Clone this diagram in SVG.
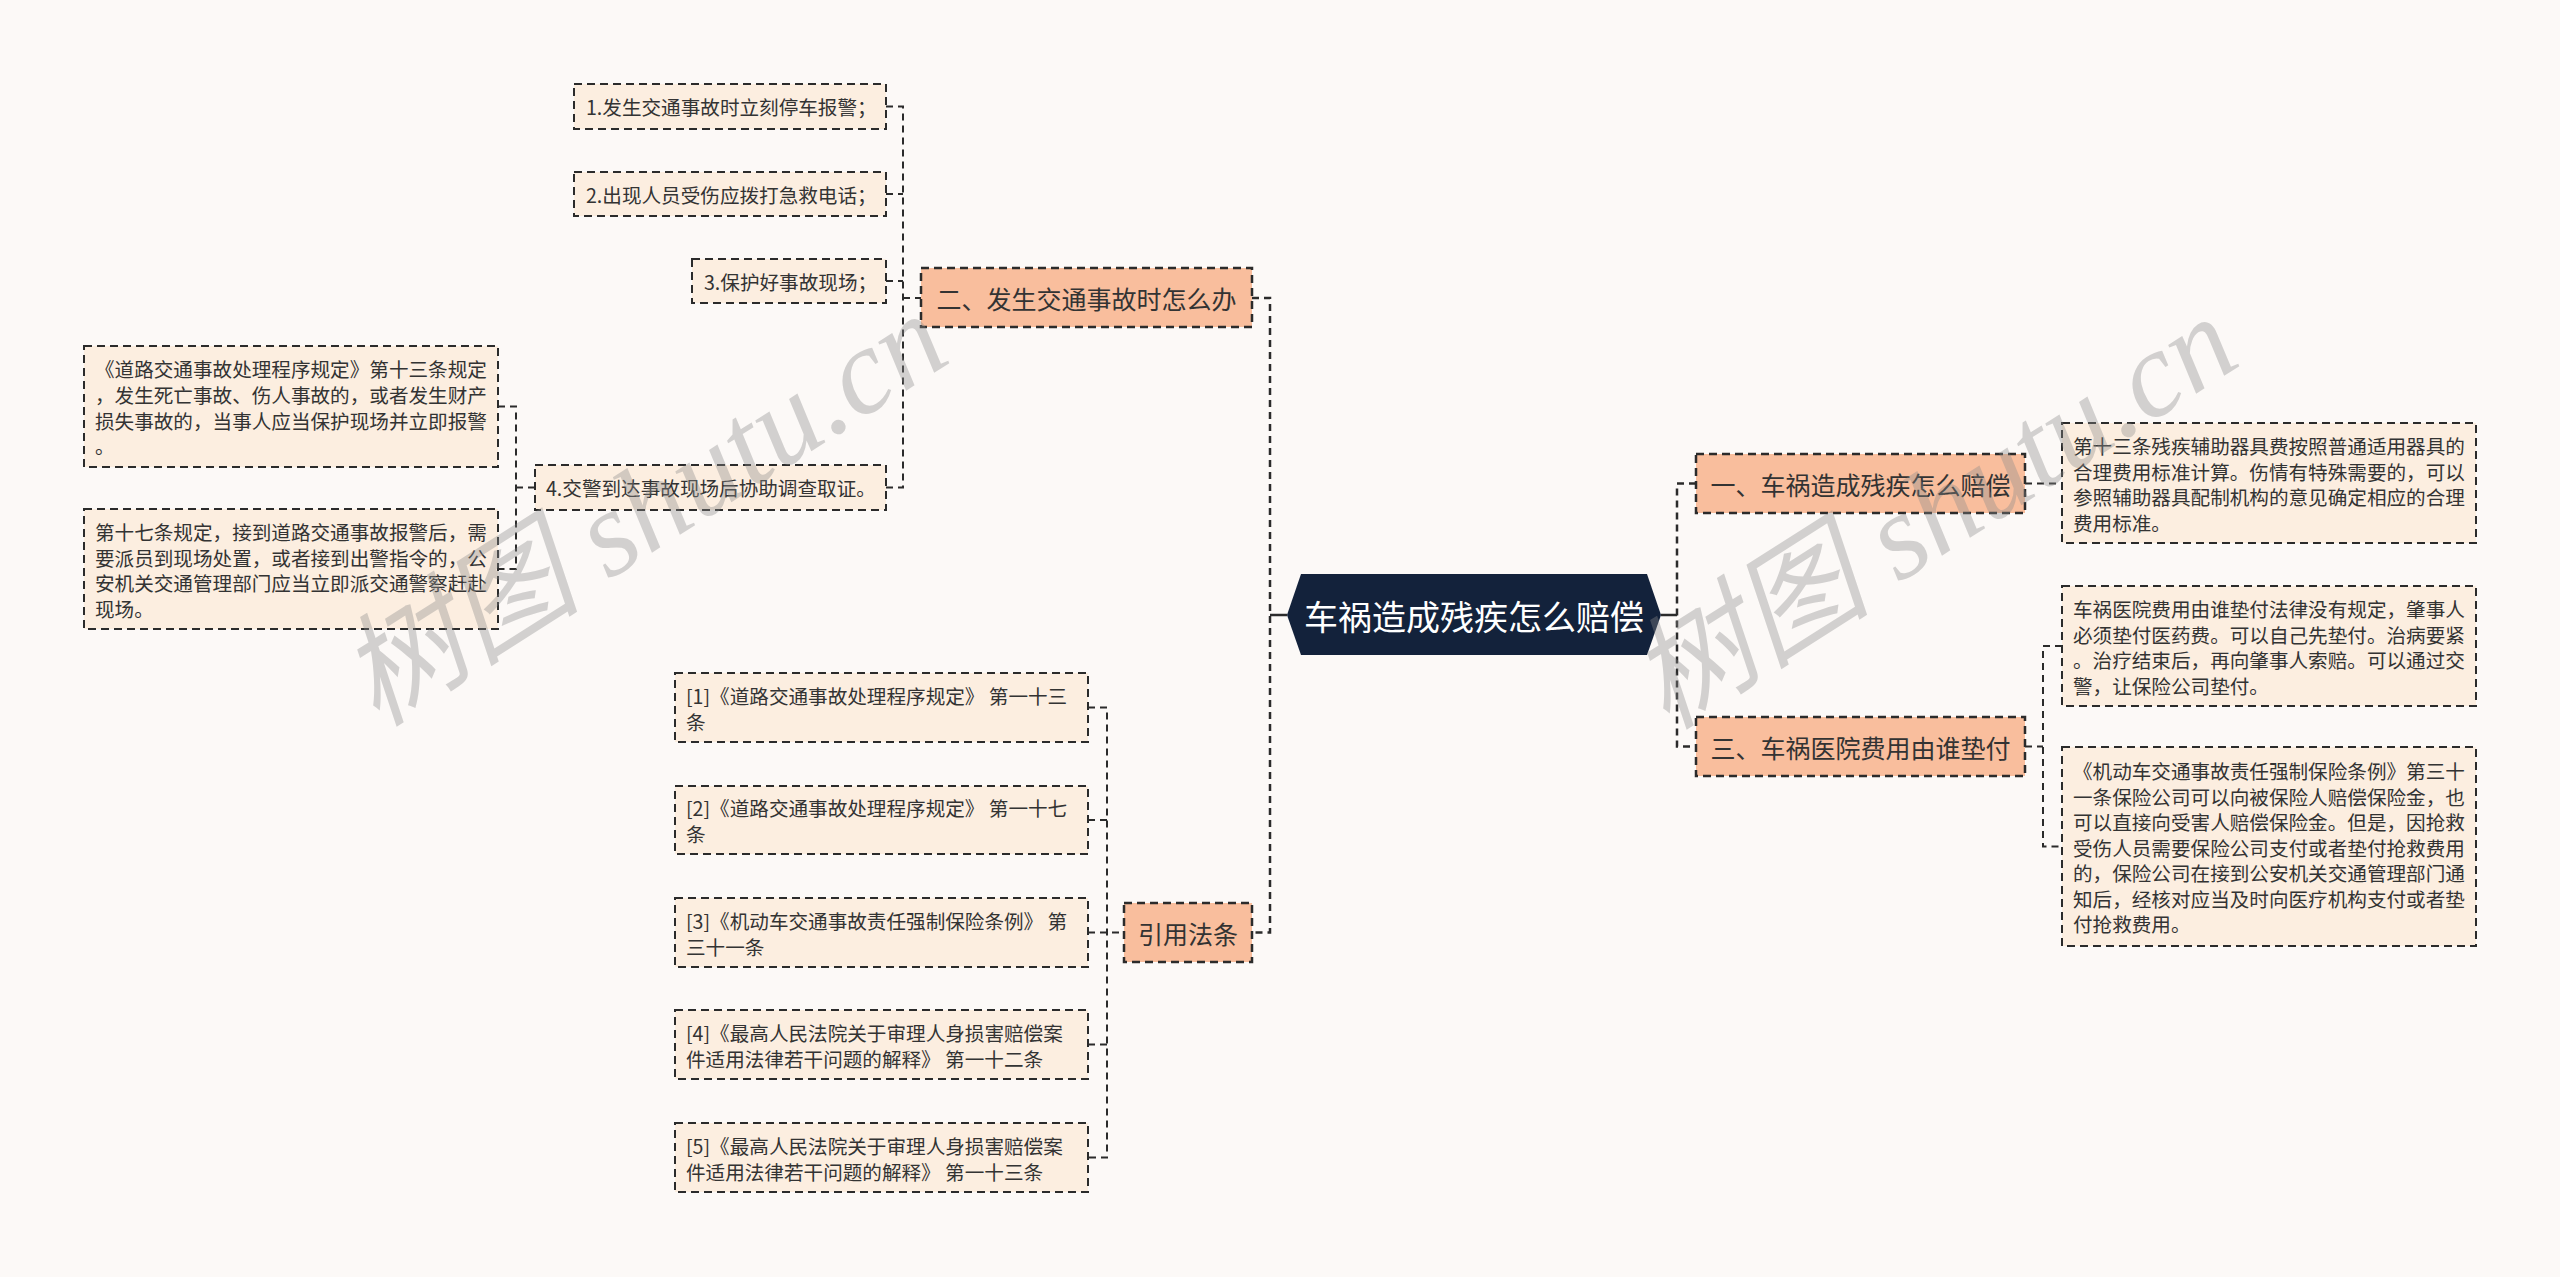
<svg xmlns="http://www.w3.org/2000/svg" width="2560" height="1277" viewBox="0 0 2560 1277">
<style>
  .bg{fill:#FCF9F7}
  .leaf{fill:#FCEEE0;stroke:#2b2b2b;stroke-width:2;stroke-dasharray:8 5}
  .lv1{fill:#F9BE9D;stroke:#2b2b2b;stroke-width:2.5;stroke-dasharray:8 5}
  .root{fill:#13223B}
  .t{font-family:"Noto Sans CJK SC","Noto Sans",sans-serif;font-size:19.6px;fill:#333333;dominant-baseline:central}
  .t1{font-family:"Noto Sans CJK SC","Noto Sans",sans-serif;font-size:25px;fill:#333333;dominant-baseline:central;text-anchor:middle}
  .tr{font-family:"Noto Sans CJK SC","Noto Sans",sans-serif;font-size:34px;fill:#FFFFFF;dominant-baseline:central;text-anchor:middle}
  .c1{fill:none;stroke:#2b2b2b;stroke-width:2.5;stroke-dasharray:7 5}
  .c2{fill:none;stroke:#2b2b2b;stroke-width:2;stroke-dasharray:7 5}
  .cs{fill:none;stroke:#2b2b2b;stroke-width:2.5}
  .wm{font-family:"Liberation Serif","Noto Sans CJK SC",serif;font-style:italic;font-size:122px;fill:#8a8a8a;opacity:0.36;dominant-baseline:central;text-anchor:middle}
</style>
<rect class="bg" x="0" y="0" width="2560" height="1277"/>

<g id="connectors">
  <path class="cs" d="M1287,615 H1270"/>
  <path class="cs" d="M1661,615 H1677"/>
  <path class="c1" d="M1252,298 H1270 V932.5 H1252"/>
  <path class="c1" d="M1696,483.5 H1677 V746.5 H1696"/>

  <path class="c2" d="M886,106.5 H903 V487.5 H886"/>
  <path class="c2" d="M886,194 H903"/>
  <path class="c2" d="M886,281 H903"/>
  <path class="c2" d="M903,298 H921"/>

  <path class="c2" d="M498,406.5 H516 V569 H498"/>
  <path class="c2" d="M516,487.5 H535"/>

  <path class="c2" d="M1088,707.5 H1107 V1157.5 H1088"/>
  <path class="c2" d="M1088,820 H1107"/>
  <path class="c2" d="M1088,932.5 H1124"/>
  <path class="c2" d="M1088,1044.5 H1107"/>

  <path class="c2" d="M2025,483.5 H2062"/>
  <path class="c2" d="M2062,646 H2043 V846.5 H2062"/>
  <path class="c2" d="M2025,746.5 H2043"/>
</g>

<g id="root">
  <polygon class="root" points="1287,615 1301,574 1647,574 1661,615 1647,655 1301,655"/>
  <text class="tr" x="1474" y="615">车祸造成残疾怎么赔偿</text>
</g>

<g id="n-two">
  <rect class="lv1" x="921" y="268" width="331" height="59"/>
  <text class="t1" x="1086.5" y="297.5">二、发生交通事故时怎么办</text>
</g>
<g id="n-law">
  <rect class="lv1" x="1124" y="903" width="128" height="59"/>
  <text class="t1" x="1188" y="932.5">引用法条</text>
</g>
<g id="n-one">
  <rect class="lv1" x="1696" y="454" width="329" height="59"/>
  <text class="t1" x="1860.5" y="483.5">一、车祸造成残疾怎么赔偿</text>
</g>
<g id="n-three">
  <rect class="lv1" x="1696" y="717" width="329" height="59"/>
  <text class="t1" x="1860.5" y="746.5">三、车祸医院费用由谁垫付</text>
</g>

<g id="s1">
  <rect class="leaf" x="574" y="84" width="312" height="45"/>
  <text class="t" x="586" y="106.5">1.发生交通事故时立刻停车报警；</text>
</g>
<g id="s2">
  <rect class="leaf" x="574" y="172" width="312" height="44"/>
  <text class="t" x="586" y="194">2.出现人员受伤应拨打急救电话；</text>
</g>
<g id="s3">
  <rect class="leaf" x="692" y="259" width="194" height="44"/>
  <text class="t" x="704" y="281">3.保护好事故现场；</text>
</g>
<g id="s4">
  <rect class="leaf" x="535" y="465" width="351" height="45"/>
  <text class="t" x="546" y="487.5">4.交警到达事故现场后协助调查取证。</text>
</g>
<g id="s4a">
  <rect class="leaf" x="84" y="346" width="414" height="121"/>
  <text class="t" x="95" y="368.5">《道路交通事故处理程序规定》第十三条规定<tspan x="95" dy="25.5">，发生死亡事故、伤人事故的，或者发生财产</tspan><tspan x="95" dy="25.5">损失事故的，当事人应当保护现场并立即报警</tspan><tspan x="95" dy="25.5">。</tspan></text>
</g>
<g id="s4b">
  <rect class="leaf" x="84" y="509" width="414" height="120"/>
  <text class="t" x="95" y="531">第十七条规定，接到道路交通事故报警后，需<tspan x="95" dy="25.5">要派员到现场处置，或者接到出警指令的，公</tspan><tspan x="95" dy="25.5">安机关交通管理部门应当立即派交通警察赶赴</tspan><tspan x="95" dy="25.5">现场。</tspan></text>
</g>

<g id="ref1">
  <rect class="leaf" x="675" y="673" width="413" height="69"/>
  <text class="t" x="686" y="695">[1]《道路交通事故处理程序规定》 第一十三<tspan x="686" dy="25.5">条</tspan></text>
</g>
<g id="ref2">
  <rect class="leaf" x="675" y="786" width="413" height="68"/>
  <text class="t" x="686" y="807.5">[2]《道路交通事故处理程序规定》 第一十七<tspan x="686" dy="25.5">条</tspan></text>
</g>
<g id="ref3">
  <rect class="leaf" x="675" y="898" width="413" height="69"/>
  <text class="t" x="686" y="920">[3]《机动车交通事故责任强制保险条例》 第<tspan x="686" dy="25.5">三十一条</tspan></text>
</g>
<g id="ref4">
  <rect class="leaf" x="675" y="1010" width="413" height="69"/>
  <text class="t" x="686" y="1032">[4]《最高人民法院关于审理人身损害赔偿案<tspan x="686" dy="25.5">件适用法律若干问题的解释》 第一十二条</tspan></text>
</g>
<g id="ref5">
  <rect class="leaf" x="675" y="1123" width="413" height="69"/>
  <text class="t" x="686" y="1145">[5]《最高人民法院关于审理人身损害赔偿案<tspan x="686" dy="25.5">件适用法律若干问题的解释》 第一十三条</tspan></text>
</g>

<g id="r1">
  <rect class="leaf" x="2062" y="423" width="414" height="120"/>
  <text class="t" x="2073" y="445">第十三条残疾辅助器具费按照普通适用器具的<tspan x="2073" dy="25.5">合理费用标准计算。伤情有特殊需要的，可以</tspan><tspan x="2073" dy="25.5">参照辅助器具配制机构的意见确定相应的合理</tspan><tspan x="2073" dy="25.5">费用标准。</tspan></text>
</g>
<g id="r2">
  <rect class="leaf" x="2062" y="586" width="414" height="120"/>
  <text class="t" x="2073" y="608">车祸医院费用由谁垫付法律没有规定，肇事人<tspan x="2073" dy="25.5">必须垫付医药费。可以自己先垫付。治病要紧</tspan><tspan x="2073" dy="25.5">。治疗结束后，再向肇事人索赔。可以通过交</tspan><tspan x="2073" dy="25.5">警，让保险公司垫付。</tspan></text>
</g>
<g id="r3">
  <rect class="leaf" x="2062" y="747" width="414" height="199"/>
  <text class="t" x="2073" y="770">《机动车交通事故责任强制保险条例》第三十<tspan x="2073" dy="25.5">一条保险公司可以向被保险人赔偿保险金，也</tspan><tspan x="2073" dy="25.5">可以直接向受害人赔偿保险金。但是，因抢救</tspan><tspan x="2073" dy="25.5">受伤人员需要保险公司支付或者垫付抢救费用</tspan><tspan x="2073" dy="25.5">的，保险公司在接到公安机关交通管理部门通</tspan><tspan x="2073" dy="25.5">知后，经核对应当及时向医疗机构支付或者垫</tspan><tspan x="2073" dy="25.5">付抢救费用。</tspan></text>
</g>

<g id="watermark">
  <text class="wm" x="643" y="509" transform="rotate(-32.5 643 509)">树图 shutu.cn</text>
  <text class="wm" x="1933" y="512" transform="rotate(-32.5 1933 512)">树图 shutu.cn</text>
</g>
</svg>
